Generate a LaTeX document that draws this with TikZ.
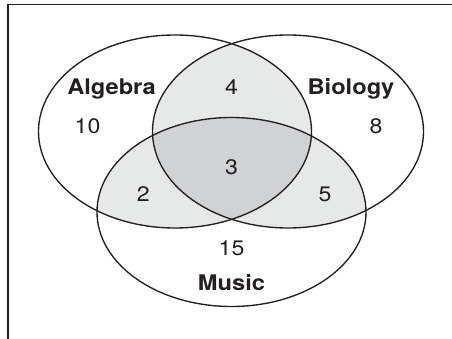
\documentclass[tikz,border=0pt]{standalone}
\usepackage{fontspec}
\setmainfont{TeX Gyre Heros}[FakeStretch=1.1]
\usepackage{tikz}
\usetikzlibrary{positioning}
\definecolor{grisclaro}{RGB}{231,232,232}
\definecolor{grisoscuro}{RGB}{209,210,212}
\definecolor{trazo}{RGB}{35,31,32}
% conjuntos (centro y radios en px de la figura)
\newcommand{\conjAlgebra}{(175,131.5) ellipse [x radius=136.5pt, y radius=96.5pt]}
\newcommand{\conjBiologia}{(288,131.5) ellipse [x radius=135.5pt, y radius=96.5pt]}
\newcommand{\conjMusica}{(231.5,212) ellipse [x radius=134.5pt, y radius=94.5pt]}

\begin{document}
\begin{tikzpicture}[
  x=1pt, y=-1pt,
  borde/.style={draw=trazo, line width=1.35pt},
  etiqueta/.style={font=\fontsize{21.5}{24}\selectfont\bfseries, text=trazo,
                   anchor=base, inner sep=0pt},
  numero/.style={font=\fontsize{21}{24}\selectfont, text=trazo,
                 anchor=base, inner sep=0pt},
]
\useasboundingbox (0,0) rectangle (452,339);
% ---- Marco ---------------------------------------------------------------
\draw[trazo, line width=1.6pt] (8,339) -- (8,4.7) -- (452,4.7);
% ---- Intersecciones ------------------------------------------------------
\begin{scope}
  \clip \conjAlgebra;
  \fill[grisclaro] \conjBiologia;
  \fill[grisclaro] \conjMusica;
\end{scope}
\begin{scope}
  \clip \conjBiologia;
  \fill[grisclaro] \conjMusica;
\end{scope}
\begin{scope}
  \clip \conjAlgebra;
  \clip \conjBiologia;
  \fill[grisoscuro] \conjMusica;
\end{scope}
% ---- Elipses -------------------------------------------------------------
\draw[borde] \conjAlgebra;
\draw[borde] \conjBiologia;
\draw[borde] \conjMusica;
% ---- Textos --------------------------------------------------------------
\node[etiqueta] (algebra) at (111.5,95) {Algebra};
\node[etiqueta] (biologia) at (351,95) {Biology};
\node[etiqueta] (musica) at (231.5,290) {Music};
\foreach \n/\x/\y in {4/231.5/95, 10/87.5/133.3, 8/376/133.3, 3/231.5/175,
                      2/143.3/201.7, 5/325/201.7, 15/231.5/255} {
  \node[numero] (num\n) at (\x,\y) {\n};
}
\end{tikzpicture}
\end{document}
